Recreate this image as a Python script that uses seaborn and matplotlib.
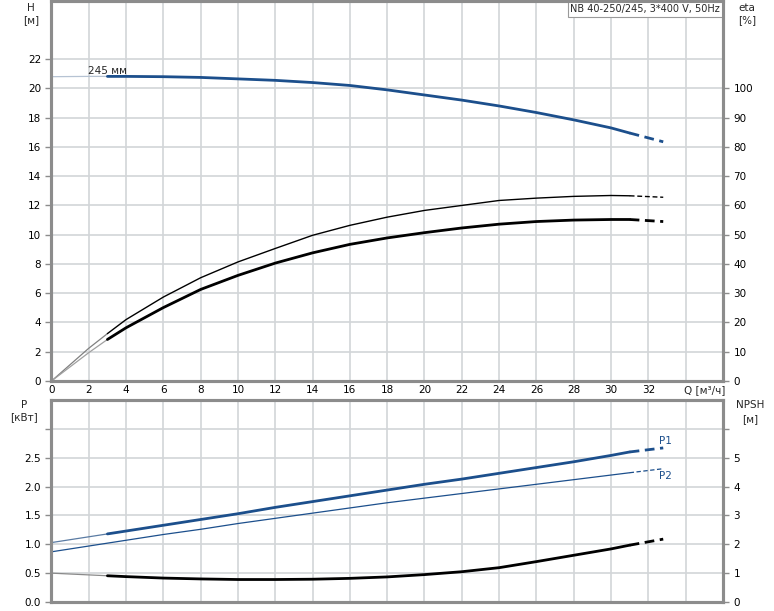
import matplotlib
matplotlib.use("Agg")
from matplotlib import pyplot as plt
import numpy as np
import pandas as pd
import seaborn as sns

# flow points [m3/h]
q = [0, 2, 3, 4, 6, 8, 10, 12, 14, 16, 18, 20, 22, 24, 26, 28, 30, 31, 32.8]
# head [m], 245 mm impeller
h_245 = [20.8, 20.82, 20.82, 20.82, 20.8, 20.75, 20.65, 20.55, 20.4, 20.2,
         19.9, 19.55, 19.2, 18.8, 18.35, 17.85, 17.3, 16.95, 16.35]
# efficiency [%]
eta_pump = [0, 11.2, 16.2, 21.0, 28.7, 35.3, 40.7, 45.3, 49.8, 53.2,
            56.0, 58.3, 60.0, 61.7, 62.5, 63.1, 63.4, 63.3, 62.8]
eta_total = [0, 9.7, 14.2, 18.2, 25.1, 31.3, 36.1, 40.3, 43.8, 46.7,
             48.9, 50.7, 52.3, 53.6, 54.5, 55.0, 55.2, 55.2, 54.5]
# power [kW]
p1 = [1.03, 1.13, 1.18, 1.23, 1.33, 1.43, 1.53, 1.64, 1.74, 1.84,
      1.94, 2.04, 2.13, 2.23, 2.33, 2.43, 2.54, 2.60, 2.67]
p2 = [0.87, 0.97, 1.02, 1.07, 1.17, 1.26, 1.36, 1.45, 1.54, 1.63,
      1.72, 1.80, 1.88, 1.96, 2.04, 2.12, 2.20, 2.24, 2.31]
# NPSH [m]
npsh = [1.0, 0.94, 0.91, 0.88, 0.83, 0.80, 0.78, 0.78, 0.79, 0.82,
        0.87, 0.95, 1.05, 1.19, 1.40, 1.62, 1.84, 1.97, 2.18]

q_min = 3      # start of the recommended range
q_max = 31     # start of the dashed extension

BLUE = "#1c4f8c"
GRID = "#d2d5d8"
SPINE = "#8c8c8c"
FS = 7.5

df = pd.DataFrame({"Q": q, "H": h_245, "eta1": eta_pump, "eta2": eta_total,
                   "P1": p1, "P2": p2, "NPSH": npsh})


def draw_curve(ax, col, color, lw, fade_color=None):
    lo = df[df.Q <= q_min]
    mid = df[(df.Q >= q_min) & (df.Q <= q_max)]
    hi = df[df.Q >= q_max]
    if fade_color is not None:
        sns.lineplot(data=lo, x="Q", y=col, ax=ax, color=fade_color, lw=min(lw, 0.9))
        sns.lineplot(data=mid, x="Q", y=col, ax=ax, color=color, lw=lw)
    else:
        sns.lineplot(data=df[df.Q <= q_max], x="Q", y=col, ax=ax, color=color, lw=lw)
    sns.lineplot(data=hi, x="Q", y=col, ax=ax, color=color, lw=lw,
                 linestyle=(0, (3.5, 2)))


def style_axes(ax):
    ax.set_xlim(0, 36)
    ax.set_xticks(np.arange(0, 36, 2))
    ax.grid(True, color=GRID, lw=1.2)
    ax.set_axisbelow(True)
    for s in ax.spines.values():
        s.set_color(SPINE)
        s.set_linewidth(2.2)
    ax.tick_params(colors=SPINE, labelcolor="black", labelsize=FS,
                   length=4, width=1, direction="out")
    ax.set_xlabel("")
    ax.set_ylabel("")


sns.set_style("white")
plt.rcParams["font.family"] = ["DejaVu Sans"]

fig = plt.figure(figsize=(7.74, 6.11), dpi=100)
ax1 = fig.add_axes([0.0665, 0.3764, 0.8675, 0.6226])
ax2 = fig.add_axes([0.0665, 0.0147, 0.8675, 0.3306])

# ---- top panel: H and eta
ax1r = ax1.twinx()
draw_curve(ax1, "H", BLUE, 2.0, fade_color="#b6c3d3")
draw_curve(ax1r, "eta1", "black", 1.0, fade_color="#808080")
draw_curve(ax1r, "eta2", "black", 2.0, fade_color="#a0a0a0")
style_axes(ax1)
ax1.set_ylim(0, 26)
ax1.set_yticks(np.arange(0, 24, 2))
ax1.set_xticklabels([str(v) for v in range(0, 34, 2)] + [""])
ax1.tick_params(axis="x", length=0, pad=3)
ax1.text(33.9, -0.62, "Q [м³/ч]", fontsize=FS, ha="left", va="center")
style_axes(ax1r)
ax1r.grid(False)
ax1r.set_ylim(0, 130)
ax1r.set_yticks(np.arange(0, 110, 10))
ax1.text(1.95, 21.2, "245 мм", fontsize=FS, ha="left", va="center")
ax1.text(0.996, 0.99, "NB 40-250/245, 3*400 V, 50Hz", transform=ax1.transAxes,
         fontsize=7, ha="right", va="top", zorder=5,
         bbox=dict(boxstyle="square,pad=0.3", fc="white", ec="#9a9a9a", lw=0.8))

# ---- bottom panel: P and NPSH
ax2r = ax2.twinx()
draw_curve(ax2, "P1", BLUE, 2.0, fade_color="#5a7ba3")
draw_curve(ax2, "P2", BLUE, 0.9)
draw_curve(ax2r, "NPSH", "black", 2.0, fade_color="#8a8a8a")
style_axes(ax2)
ax2.set_ylim(0, 3.5)
ax2.set_yticks(np.arange(0, 3.5, 0.5))
ax2.set_yticklabels(["0.0", "0.5", "1.0", "1.5", "2.0", "2.5", ""])
ax2.tick_params(axis="x", length=0, labelbottom=False)
style_axes(ax2r)
ax2r.grid(False)
ax2r.set_ylim(0, 7)
ax2r.set_yticks(np.arange(0, 7, 1))
ax2r.set_yticklabels(["0", "1", "2", "3", "4", "5", ""])
ax2r.tick_params(axis="x", length=0, labelbottom=False)
ax2.text(32.55, 2.79, "P1", fontsize=FS, color=BLUE, ha="left", va="center")
ax2.text(32.55, 2.18, "P2", fontsize=FS, color=BLUE, ha="left", va="center")

# axis titles
fig.text(31 / 774, 1 - 8 / 611, "H", fontsize=FS, ha="center", va="center")
fig.text(31 / 774, 1 - 20 / 611, "[м]", fontsize=FS, ha="center", va="center")
fig.text(747 / 774, 1 - 8 / 611, "eta", fontsize=FS, ha="center", va="center")
fig.text(747 / 774, 1 - 20 / 611, "[%]", fontsize=FS, ha="center", va="center")
fig.text(24 / 774, 1 - 405 / 611, "P", fontsize=FS, ha="center", va="center")
fig.text(24 / 774, 1 - 417 / 611, "[кВт]", fontsize=FS, ha="center", va="center")
fig.text(750 / 774, 1 - 405 / 611, "NPSH", fontsize=FS, ha="center", va="center")
fig.text(750 / 774, 1 - 419 / 611, "[м]", fontsize=FS, ha="center", va="center")

fig.savefig("out.png", dpi=100)
